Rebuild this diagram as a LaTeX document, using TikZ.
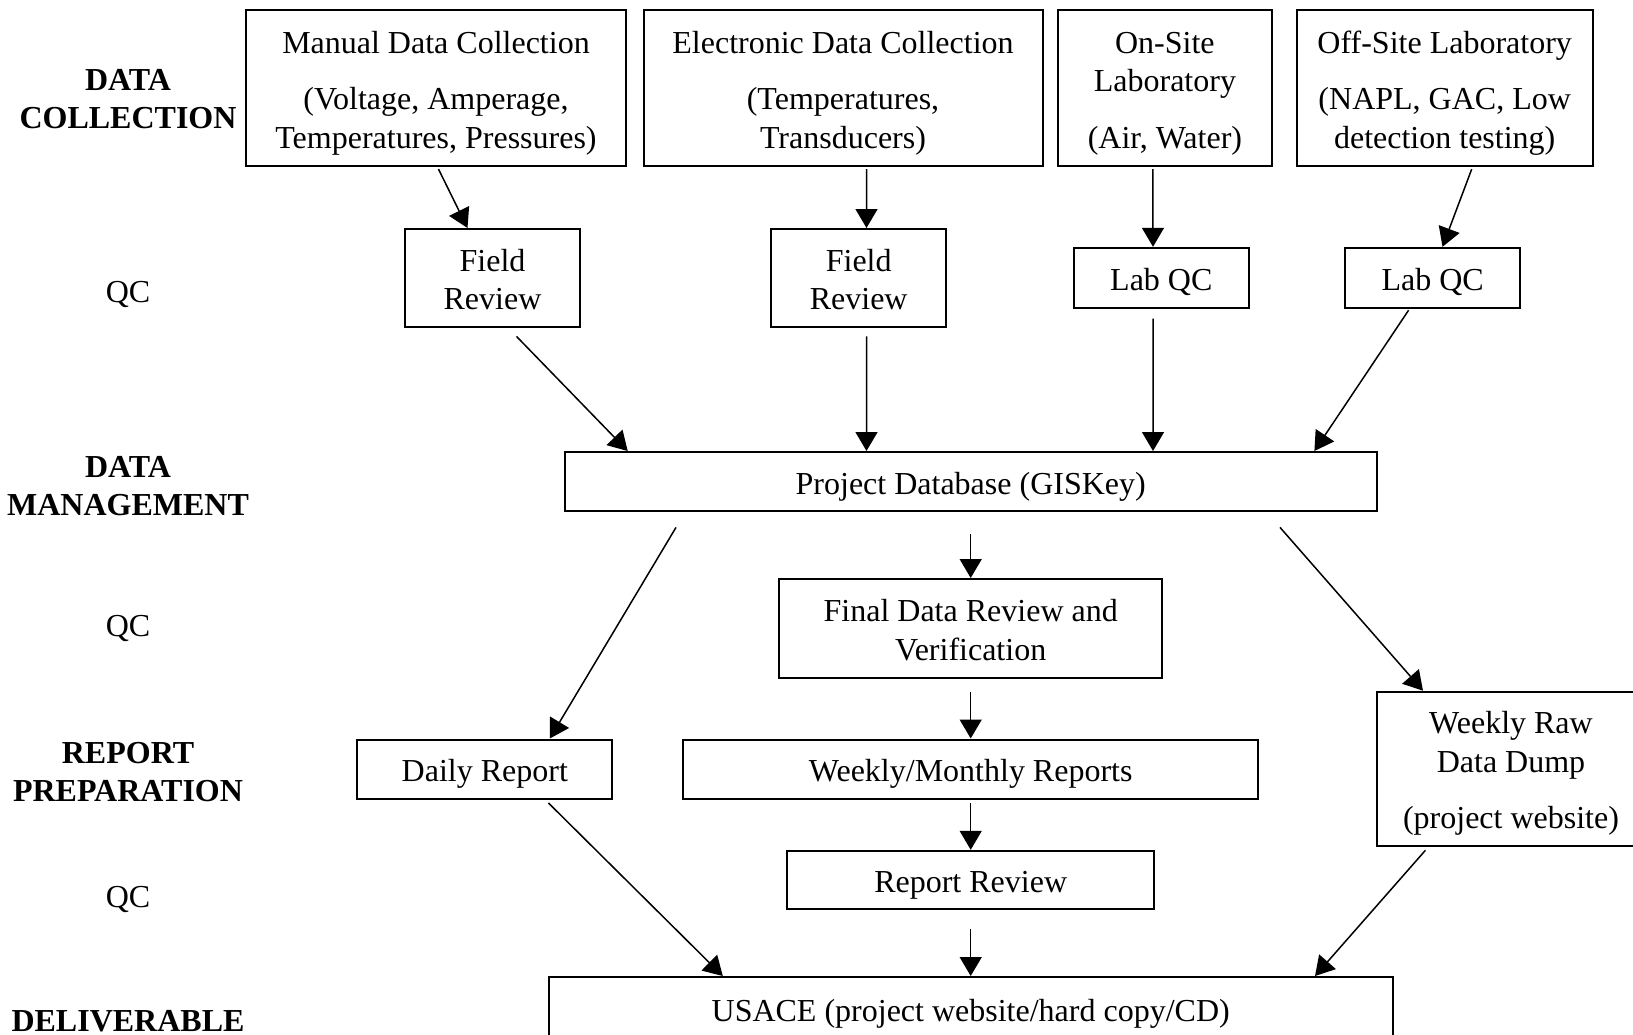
\documentclass[tikz,border=0pt]{standalone}
\usepackage{fontspec}
\setmainfont{Liberation Serif}
\usetikzlibrary{arrows.meta,calc}
% strut that fixes the height of the first line in a box
\newcommand\firstline{\rule{0pt}{16pt}}
\begin{document}
\begin{tikzpicture}[x=0.5pt,y=-0.5pt,
  txt/.style={font=\fontsize{16}{19.25}\selectfont},
  box/.style={txt,draw,line width=1pt,inner sep=0pt,align=center,
    execute at end node={\rule[-3.5pt]{0pt}{3.5pt}}},
  lbl/.style={txt,align=center,inner sep=0pt,font=\fontsize{16}{19.25}\selectfont\bfseries},
  qc/.style={txt,inner sep=0pt},
  arr/.style={line width=0.75pt,-{Triangle[length=9.5pt,width=11pt]}}]
\useasboundingbox (0,0) rectangle (1633,1034);

% stage labels
\node[lbl] (l1) at (128,99) {DATA\\COLLECTION};
\node[qc]  (q1) at (128,294.6) {QC};
\node[lbl] (l2) at (128,486) {DATA\\MANAGEMENT};
\node[qc]  (q2) at (128,628) {QC};
\node[lbl] (l3) at (128,772) {REPORT\\PREPARATION};
\node[qc]  (q3) at (128,899.7) {QC};
\node[lbl] (l4) at (128,1021) {DELIVERABLE};

% data collection
\node[box,minimum width=190pt,minimum height=77.6pt] (m) at (436,88)
  {\firstline Manual Data Collection\\[9pt](Voltage, Amperage,\\Temperatures, Pressures)};
\node[box,minimum width=199.5pt,minimum height=77.6pt] (e) at (843,88)
  {\firstline Electronic Data Collection\\[9pt](Temperatures,\\Transducers)};
\node[box,minimum width=106.9pt,minimum height=77.6pt] (on) at (1164.9,88)
  {\firstline On-Site\\Laboratory\\[9pt](Air, Water)};
\node[box,minimum width=147.9pt,minimum height=77.6pt] (off) at (1444.7,88)
  {\firstline Off-Site Laboratory\\[9pt](NAPL, GAC, Low\\detection testing)};

% first QC level
\node[box,minimum width=87.5pt,minimum height=49pt] (f1) at (492.5,278) {\firstline Field\\Review};
\node[box,minimum width=87.5pt,minimum height=49pt] (f2) at (858.7,278) {\firstline Field\\Review};
\node[box,minimum width=87.5pt,minimum height=30.2pt] (lq1) at (1161.3,278) {\firstline Lab QC};
\node[box,minimum width=87.5pt,minimum height=30.2pt] (lq2) at (1432.6,278) {\firstline Lab QC};

% data management
\node[box,minimum width=406.2pt,minimum height=29.7pt] (db) at (970.7,481.7) {\firstline Project Database (GISKey)};
\node[box,minimum width=191.7pt,minimum height=49.5pt] (fin) at (970.7,628.5) {\firstline Final Data Review and\\Verification};

% reports
\node[box,minimum width=127.6pt,minimum height=29.7pt] (dr) at (484.8,769.2) {\firstline Daily Report};
\node[box,minimum width=287.5pt,minimum height=29.7pt] (wm) at (970.7,769.2) {\firstline Weekly/Monthly Reports};
\node[box,minimum width=134pt,minimum height=77pt] (wr) at (1511,768.7) {\firstline Weekly Raw\\Data Dump\\[9pt](project website)};
\node[box,minimum width=183.4pt,minimum height=29.2pt] (rr) at (970.7,880) {\firstline Report Review};

% deliverable
\node[box,minimum width=421.8pt,minimum height=31.5pt] (us) at (970.7,1008.5) {\firstline USACE (project website/hard copy/CD)};

% connectors
\draw[arr] ($(m.south)+(2.5,2.5)$)    -- ($(f1.north)+(-25,0)$);
\draw[arr] ($(e.south)+(23.5,2.5)$)   -- ($(f2.north)+(7.8,0)$);
\draw[arr] ($(on.south)+(-12,2.5)$)   -- ($(lq1.north)+(-8.3,0)$);
\draw[arr] ($(off.south)+(27,2.5)$)   -- ($(lq2.north)+(9.9,0)$);

\draw[arr] ($(f1.south)+(24,8.4)$)    -- ($(db.north)+(-343,0)$);
\draw[arr] ($(f2.south)+(7.8,8.4)$)   -- ($(db.north)+(-104.2,0)$);
\draw[arr] ($(lq1.south)+(-8.3,9.4)$) -- ($(db.north)+(182.3,0)$);
\draw[arr] ($(lq2.south)+(-24,1)$)    -- ($(db.north)+(343.7,0)$);

\draw[arr] ($(db.south)+(-294.7,15)$) -- ($(dr.north)+(65,0)$);
\draw[arr] ($(db.south)+(0,21.6)$)    -- (fin.north);
\draw[arr] ($(db.south)+(309.3,15)$)  -- ($(wr.north)+(-88,0)$);

\draw[arr] ($(fin.south)+(0,12.5)$)   -- (wm.north);
\draw[arr] ($(wm.south)+(0,3)$)       -- (rr.north);

\draw[arr] ($(dr.south)+(63.6,3)$)    -- ($(us.north)+(-247.9,0)$);
\draw[arr] ($(rr.south)+(0,19)$)      -- (us.north);
\draw[arr] ($(wr.south)+(-85.6,3.6)$) -- ($(us.north)+(344.3,0)$);
\end{tikzpicture}
\end{document}
